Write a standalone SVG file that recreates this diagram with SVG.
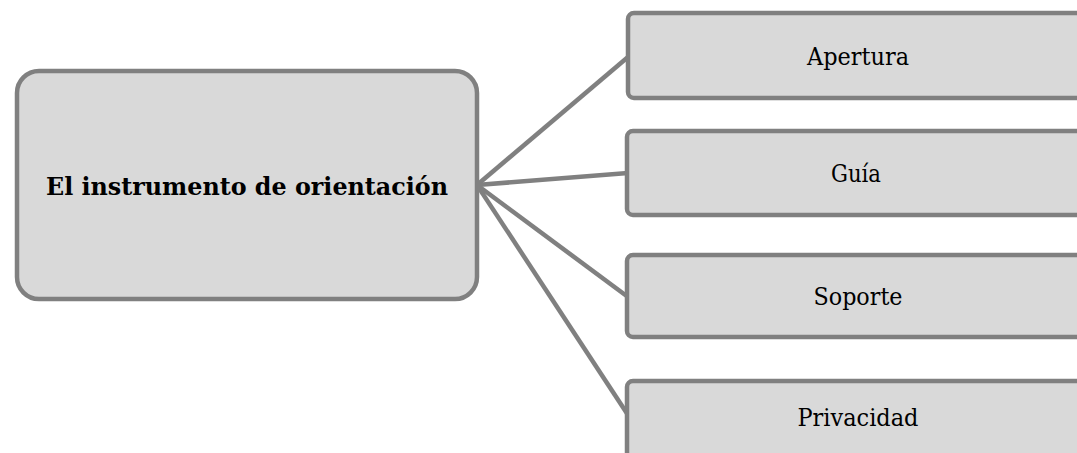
<svg xmlns="http://www.w3.org/2000/svg" width="1077" height="453" viewBox="0 0 1077 453">
<style>
.box{fill:#d9d9d9;stroke:#808080;stroke-width:4.5}
.conn{stroke:#808080;stroke-width:4.5;fill:none}
.t{font-family:"DejaVu Serif","Liberation Serif",serif;fill:#000;text-anchor:middle}
.main{font-weight:bold;font-size:25px}
.leaf{font-size:23.5px}
</style>
<rect width="1077" height="453" fill="#ffffff"/>
<g id="connectors">
<line class="conn" x1="477" y1="185" x2="628" y2="57"/>
<line class="conn" x1="477" y1="185" x2="628" y2="173"/>
<line class="conn" x1="477" y1="185" x2="628" y2="297"/>
<line class="conn" x1="477" y1="185" x2="628" y2="415"/>
</g>
<g id="center">
<rect class="box" x="17" y="71" width="460" height="228" rx="22"/>
<text class="t main" x="247" y="195" textLength="402" lengthAdjust="spacingAndGlyphs">El instrumento de orientación</text>
</g>
<g id="apertura">
<rect class="box" x="628" y="13" width="462" height="85" rx="6"/>
<text class="t leaf" x="858" y="65" textLength="102" lengthAdjust="spacingAndGlyphs">Apertura</text>
</g>
<g id="guia">
<rect class="box" x="627" y="131" width="462" height="84" rx="6"/>
<text class="t leaf" x="856" y="182" textLength="50" lengthAdjust="spacingAndGlyphs">Guía</text>
</g>
<g id="soporte">
<rect class="box" x="627" y="255" width="462" height="82" rx="6"/>
<text class="t leaf" x="858" y="305" textLength="89" lengthAdjust="spacingAndGlyphs">Soporte</text>
</g>
<g id="privacidad">
<rect class="box" x="627" y="381" width="462" height="84" rx="6"/>
<text class="t leaf" x="858" y="426" textLength="121" lengthAdjust="spacingAndGlyphs">Privacidad</text>
</g>
</svg>
